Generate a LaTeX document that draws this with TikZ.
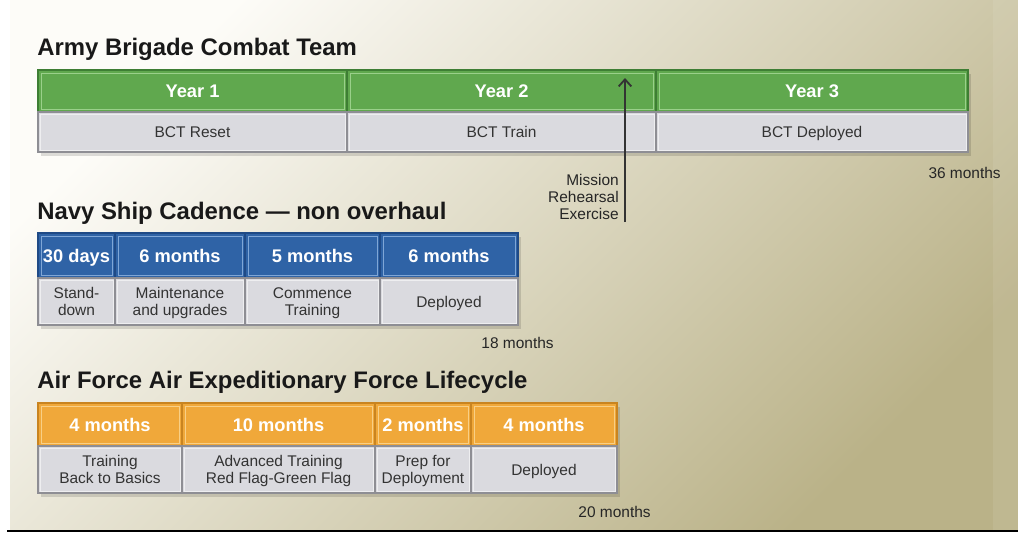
\documentclass[tikz,border=0pt]{standalone}
\usepackage{fontspec}
\setmainfont{Liberation Sans}
\usepackage{tikz}
\usetikzlibrary{arrows.meta}
\definecolor{armygreen}{HTML}{60A84E}
\definecolor{armygreendark}{HTML}{3E7E34}
\definecolor{armygreenlight}{HTML}{9AD08A}
\definecolor{navyblue}{HTML}{2F63A6}
\definecolor{navybluedark}{HTML}{1F4A86}
\definecolor{navybluelight}{HTML}{7FA6D6}
\definecolor{airorange}{HTML}{F0A83A}
\definecolor{airorangedark}{HTML}{C98420}
\definecolor{airorangelight}{HTML}{F8CF86}
\definecolor{cellgray}{HTML}{DADADF}
\definecolor{cellgraydark}{HTML}{8E8E94}
\definecolor{bgtop}{RGB}{253,252,248}
\definecolor{bgmid}{RGB}{243,239,225}
\definecolor{bgbottom}{RGB}{186,178,136}
\tikzset{
    bandtitle/.style={anchor=base west, inner sep=0pt, font=\fontsize{17}{20}\selectfont\bfseries, text=black!90},
    headtxt/.style={inner sep=0pt, text depth=0pt, text=white, font=\fontsize{13}{15}\selectfont\bfseries},
    celltxt/.style={inner sep=0pt, text depth=0pt, align=center, text=black!80, font=\fontsize{11}{11.6}\selectfont},
    spantxt/.style={inner sep=0pt, text=black!85, font=\fontsize{11}{12}\selectfont},
    army/.style={fill=armygreen, draw=armygreendark, line width=1pt},
    army inner/.style={draw=armygreenlight, line width=.5pt},
    navy/.style={fill=navyblue, draw=navybluedark, line width=1pt},
    navy inner/.style={draw=navybluelight, line width=.5pt},
    air/.style={fill=airorange, draw=airorangedark, line width=1pt},
    air inner/.style={draw=airorangelight, line width=.5pt},
    gray/.style={fill=cellgray, draw=cellgraydark, line width=.8pt},
    gray inner/.style={draw=white, opacity=.55, line width=.5pt},
    bandshadow/.style={fill=black, opacity=.13},
}
% style, name, x1, x2, y1, y2, text
\newcommand{\headcell}[7]{%
    \draw[#1] (#3,#5) rectangle (#4,#6);
    \draw[#1 inner] ({#3+3},{#5+3}) rectangle ({#4-3},{#6-3});
    \node[headtxt] (#2) at ({(#3+#4)/2},{(#5+#6)/2}) {#7};
}
\newcommand{\bodycell}[6]{%
    \draw[gray] (#2,#4) rectangle (#3,#5);
    \draw[gray inner] ({#2+2},{#4+2}) rectangle ({#3-2},{#5-2});
    \node[celltxt] (#1) at ({(#2+#3)/2},{(#4+#5)/2}) {#6};
}

\begin{document}
\begin{tikzpicture}[x=0.025cm, y=-0.025cm]
    \useasboundingbox (0,0) rectangle (1018,533);
    % background
    \shade[top color=bgtop, middle color=bgmid, bottom color=bgbottom, shading angle=45]
        (10,0) rectangle (1018,530);
    \fill[white, opacity=.08] (993,0) rectangle (1018,530);
    \draw[line width=1.4pt] (7,531) -- (1018,531);

    % army
    \node[bandtitle] (armytitle) at (37,55) {Army Brigade Combat Team};
    \fill[bandshadow] (41,74) rectangle (971,156);
    \headcell{army}{y1}{38}{347}{70}{112}{Year 1}
    \headcell{army}{y2}{347}{656}{70}{112}{Year 2}
    \headcell{army}{y3}{656}{968}{70}{112}{Year 3}
    \bodycell{reset}{38}{347}{112}{152}{BCT Reset}
    \bodycell{train}{347}{656}{112}{152}{BCT Train}
    \bodycell{deployed}{656}{968}{112}{152}{BCT Deployed}
    \node[spantxt, anchor=east] (armyspan) at (1001,173) {36 months};
    \node[spantxt, anchor=east, align=right, font=\fontsize{11}{12.2}\selectfont] (mre) at (619,197) {Mission\\Rehearsal\\Exercise};
    \coordinate (mrebot) at (625,222);
    \coordinate (mretop) at (625,78);
    \draw[line width=1.3pt, black!80, -{Straight Barb[length=5pt, width=9pt]}] (mrebot) -- (mretop);

    % navy
    \node[bandtitle] (navytitle) at (37,219) {Navy Ship Cadence — non overhaul};
    \fill[bandshadow] (41,237) rectangle (521,329);
    \headcell{navy}{n1}{38}{115}{233}{278}{30 days}
    \headcell{navy}{n2}{115}{245}{233}{278}{6 months}
    \headcell{navy}{n3}{245}{380}{233}{278}{5 months}
    \headcell{navy}{n4}{380}{518}{233}{278}{6 months}
    \bodycell{standdown}{38}{115}{278}{325}{Stand-\\down}
    \bodycell{maint}{115}{245}{278}{325}{Maintenance\\and upgrades}
    \bodycell{commence}{245}{380}{278}{325}{Commence\\Training}
    \bodycell{navydeployed}{380}{518}{278}{325}{Deployed}
    \node[spantxt, anchor=east] (navyspan) at (554,343) {18 months};

    % air force
    \node[bandtitle] (airtitle) at (37,388) {Air Force Air Expeditionary Force Lifecycle};
    \fill[bandshadow] (41,407) rectangle (620,497);
    \headcell{air}{a1}{38}{182}{403}{446}{4 months}
    \headcell{air}{a2}{182}{375}{403}{446}{10 months}
    \headcell{air}{a3}{375}{471}{403}{446}{2 months}
    \headcell{air}{a4}{471}{617}{403}{446}{4 months}
    \bodycell{basics}{38}{182}{446}{493}{Training\\Back to Basics}
    \bodycell{advanced}{182}{375}{446}{493}{Advanced Training\\Red Flag-Green Flag}
    \bodycell{prep}{375}{471}{446}{493}{Prep for\\Deployment}
    \bodycell{airdeployed}{471}{617}{446}{493}{Deployed}
    \node[spantxt, anchor=east] (airspan) at (651,512) {20 months};
\end{tikzpicture}
\end{document}
